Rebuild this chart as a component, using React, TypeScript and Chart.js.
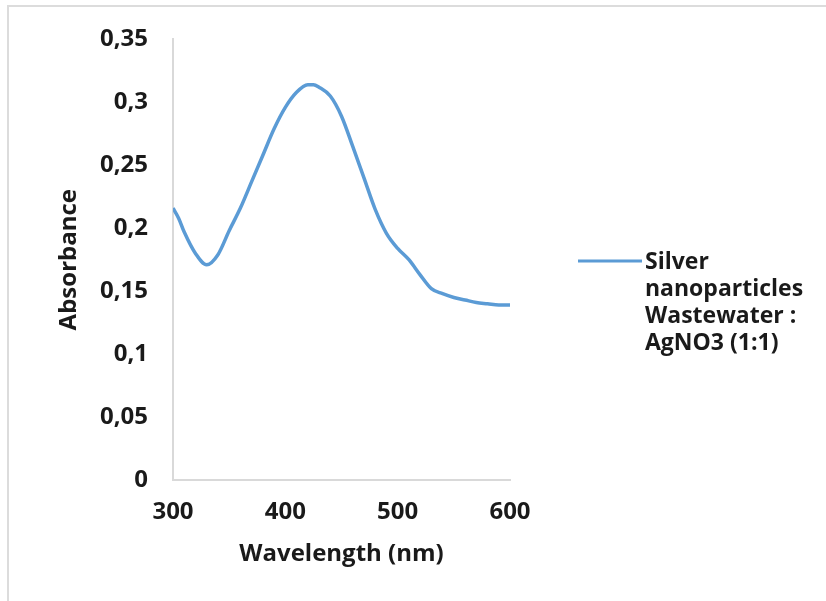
import React, { useEffect, useRef } from "react";
import { Chart, registerables } from "chart.js";

Chart.register(...registerables);

const wavelengths = [300, 305, 310, 320, 330, 340, 350, 360, 370, 380, 390, 400, 410, 420, 425, 430, 440, 450, 460, 470, 480, 490, 500, 510, 520, 530, 540, 550, 560, 570, 580, 590, 600];
const absorbance = [0.216, 0.208, 0.197, 0.180, 0.171, 0.179, 0.198, 0.216, 0.237, 0.258, 0.279, 0.296, 0.308, 0.314, 0.314, 0.312, 0.305, 0.289, 0.265, 0.240, 0.215, 0.196, 0.184, 0.175, 0.163, 0.152, 0.148, 0.145, 0.143, 0.141, 0.140, 0.139, 0.139];
const legendLines = ["Silver", "nanoparticles", "Wastewater :", "AgNO3 (1:1)"];
const xTitle = "Wavelength (nm)";
const yTitle = "Absorbance";

const FONT = "'Open Sans', sans-serif";
const LINE_COLOR = "#5B9BD5";

const legendPlugin = {
  id: "customLegend",
  afterDraw(chart: any) {
    const ctx = chart.ctx;
    ctx.save();
    const lineY = 261;
    ctx.strokeStyle = LINE_COLOR;
    ctx.lineWidth = 3;
    ctx.beginPath();
    ctx.moveTo(578, lineY);
    ctx.lineTo(642, lineY);
    ctx.stroke();
    ctx.fillStyle = "#1a1a1a";
    ctx.font = `bold 23px ${FONT}`;
    ctx.textBaseline = "middle";
    ctx.textAlign = "left";
    legendLines.forEach((t, i) => {
      ctx.fillText(t, 645, lineY + 1 + i * 27);
    });
    ctx.restore();
  },
};

export default function App() {
  const ref = useRef<HTMLCanvasElement>(null);
  useEffect(() => {
    if (!ref.current) return;
    const chart = new Chart(ref.current, {
      type: "line",
      data: {
        datasets: [
          {
            label: legendLines.join(" "),
            data: wavelengths.map((w, i) => ({ x: w, y: absorbance[i] })),
            borderColor: LINE_COLOR,
            borderWidth: 3.5,
            pointRadius: 0,
            tension: 0.4,
            cubicInterpolationMode: "monotone",
            fill: false,
          },
        ],
      },
      options: {
        responsive: false,
        animation: false,
        layout: { padding: { left: 0, top: 37, right: 316, bottom: 0 } },
        plugins: {
          legend: { display: false },
          tooltip: { enabled: false },
        },
        scales: {
          x: {
            type: "linear",
            min: 300,
            max: 600,
            afterFit(scale: any) {
              scale.height = 121;
            },
            ticks: {
              stepSize: 100,
              padding: 18,
              color: "#1a1a1a",
              font: { family: FONT, size: 24, weight: "bold" },
            },
            grid: { display: true, drawOnChartArea: false, drawTicks: false, color: "rgba(0,0,0,0)" },
            border: { display: true, color: "#d9d9d9", width: 2 },
            title: {
              display: true,
              text: xTitle,
              color: "#1a1a1a",
              font: { family: FONT, size: 24, weight: "bold" },
              padding: { top: 10, bottom: 32 },
            },
          },
          y: {
            min: 0,
            max: 0.35,
            afterFit(scale: any) {
              scale.width = 173;
            },
            ticks: {
              stepSize: 0.05,
              padding: 25,
              color: "#1a1a1a",
              font: { family: FONT, size: 24, weight: "bold" },
              callback: (v: any) => {
                const n = Math.round(Number(v) * 100) / 100;
                return String(n).replace(".", ",");
              },
            },
            grid: { display: true, drawOnChartArea: false, drawTicks: false, color: "rgba(0,0,0,0)" },
            border: { display: true, color: "#d9d9d9", width: 2 },
            title: {
              display: true,
              text: yTitle,
              color: "#1a1a1a",
              font: { family: FONT, size: 24, weight: "bold" },
              padding: { top: 55, bottom: 0 },
            },
          },
        },
      },
      plugins: [legendPlugin],
    });
    return () => chart.destroy();
  }, []);
  return (
    <div style={{ position: "fixed", left: 0, top: 0, width: 826, height: 601, background: "#fff" }}>
      <canvas ref={ref} width={826} height={601} style={{ position: "absolute", left: 0, top: 0 }} />
      <div
        style={{
          position: "absolute",
          left: 7,
          top: 5,
          width: 819,
          height: 596,
          borderLeft: "2px solid #dcdcdc",
          borderTop: "2px solid #dcdcdc",
          pointerEvents: "none",
        }}
      />
    </div>
  );
}
